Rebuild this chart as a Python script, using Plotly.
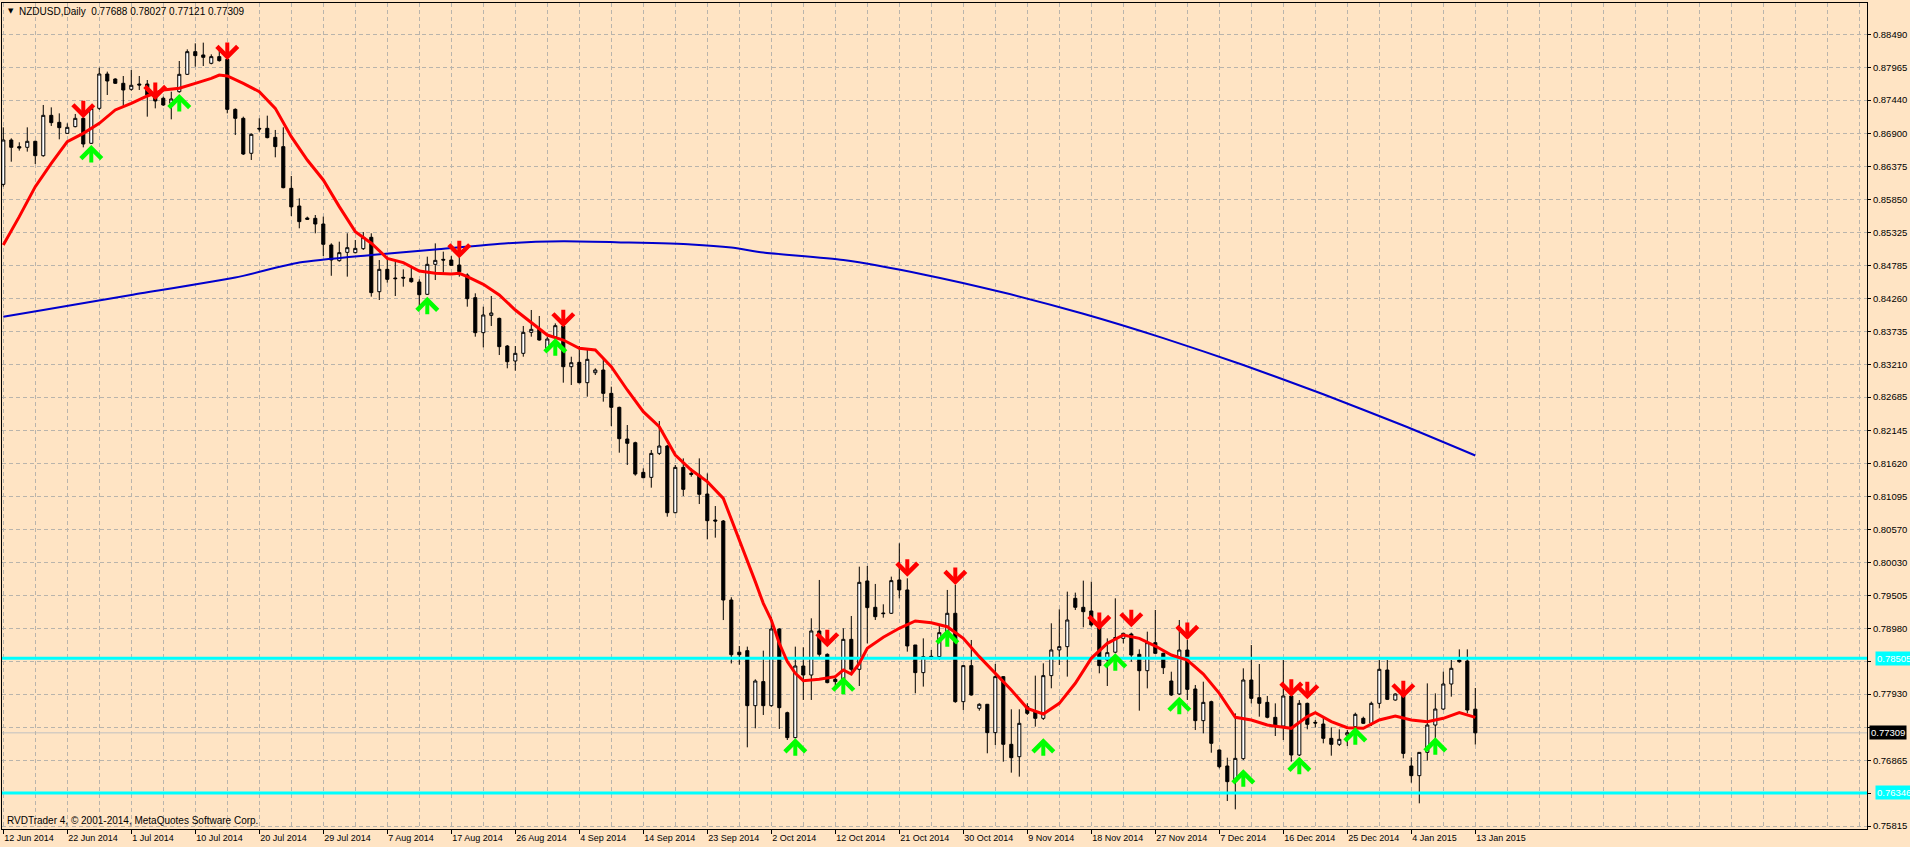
import plotly.graph_objects as go

# ---------------- data ----------------
bar_index = list(range(185))

opens = [
    0.86092, 0.86802, 0.86696, 0.86685, 0.86781, 0.86551, 0.87197, 0.87085, 0.86909, 0.87016,
    0.87149, 0.86749, 0.87309, 0.87859, 0.87779, 0.87710, 0.87614, 0.87699, 0.87699, 0.87523,
    0.87470, 0.87390, 0.87576, 0.87854, 0.88217, 0.88164, 0.88030, 0.88137, 0.88094, 0.87293,
    0.87149, 0.86589, 0.86989, 0.86989, 0.86845, 0.86696, 0.86028, 0.85745, 0.85553, 0.85548,
    0.85457, 0.85121, 0.84870, 0.85003, 0.84998, 0.85062, 0.85244, 0.84373, 0.84731, 0.84592,
    0.84603, 0.84587, 0.84528, 0.84331, 0.84811, 0.84891, 0.84880, 0.84800, 0.84640, 0.84277,
    0.83717, 0.83994, 0.83946, 0.83503, 0.83263, 0.83386, 0.83722, 0.83770, 0.83466, 0.83653,
    0.83824, 0.83172, 0.83242, 0.82916, 0.83076, 0.83119, 0.82745, 0.82521, 0.82014, 0.81955,
    0.81480, 0.81400, 0.81784, 0.81902, 0.80834, 0.81560, 0.81464, 0.81437, 0.81133, 0.80717,
    0.80701, 0.79436, 0.78600, 0.78625, 0.77744, 0.78129, 0.77744, 0.78972, 0.77632, 0.77232,
    0.78379, 0.78235, 0.78940, 0.78566, 0.78166, 0.78166, 0.78806, 0.78326, 0.79741, 0.79319,
    0.79228, 0.79223, 0.79757, 0.79597, 0.78716, 0.78273, 0.78534, 0.78529, 0.78913, 0.79223,
    0.77808, 0.78385, 0.77702, 0.77766, 0.77312, 0.78209, 0.77125, 0.76927, 0.77728, 0.77648,
    0.77541, 0.78225, 0.78636, 0.78689, 0.79463, 0.79319, 0.79260, 0.79036, 0.78476, 0.78600,
    0.78822, 0.78891, 0.78566, 0.78304, 0.78753, 0.78582, 0.78139, 0.77931, 0.78635, 0.78011,
    0.77504, 0.77808, 0.77034, 0.76778, 0.76527, 0.76895, 0.78155, 0.77872, 0.77797, 0.77557,
    0.77418, 0.77899, 0.76954, 0.77781, 0.77477, 0.77450, 0.77221, 0.77125, 0.77274, 0.77407,
    0.77541, 0.77461, 0.77781, 0.78315, 0.77834, 0.77915, 0.76778, 0.76623, 0.76996, 0.77434,
    0.77690, 0.78091, 0.78475, 0.78459, 0.77688,
]
highs = [
    0.87005, 0.86829, 0.86765, 0.87005, 0.86792, 0.87363, 0.87325, 0.87229, 0.87069, 0.87219,
    0.87187, 0.87325, 0.87961, 0.87897, 0.87790, 0.87827, 0.87923, 0.87827, 0.87763, 0.87630,
    0.87496, 0.87576, 0.88067, 0.88254, 0.88350, 0.88361, 0.88174, 0.88254, 0.88164, 0.87309,
    0.87176, 0.86909, 0.87149, 0.87192, 0.86963, 0.87005, 0.86226, 0.85868, 0.85575, 0.85601,
    0.85575, 0.85148, 0.85174, 0.85308, 0.85201, 0.85329, 0.85308, 0.84880, 0.84934, 0.84854,
    0.84731, 0.84774, 0.84571, 0.84934, 0.85147, 0.85014, 0.84944, 0.84934, 0.84667, 0.84347,
    0.84133, 0.84304, 0.83957, 0.83519, 0.83503, 0.83824, 0.84080, 0.83984, 0.83653, 0.83866,
    0.83920, 0.83332, 0.83503, 0.83466, 0.83146, 0.83306, 0.82852, 0.82532, 0.82238, 0.81971,
    0.81544, 0.81838, 0.82302, 0.81918, 0.81598, 0.81704, 0.81544, 0.81704, 0.81464, 0.80941,
    0.80717, 0.79480, 0.78700, 0.78689, 0.78166, 0.78625, 0.79169, 0.78983, 0.77648, 0.78689,
    0.78678, 0.79143, 0.79757, 0.78582, 0.78235, 0.78983, 0.79180, 0.79970, 0.79981, 0.79693,
    0.79367, 0.79810, 0.80344, 0.79783, 0.78716, 0.78822, 0.78636, 0.79036, 0.79597, 0.79677,
    0.78395, 0.78796, 0.77782, 0.77771, 0.78412, 0.78219, 0.77686, 0.77686, 0.77782, 0.78225,
    0.78422, 0.79063, 0.79287, 0.79570, 0.79554, 0.79746, 0.79730, 0.79063, 0.78822, 0.79463,
    0.78913, 0.78913, 0.78646, 0.78929, 0.79276, 0.78592, 0.78288, 0.79116, 0.78795, 0.78075,
    0.78128, 0.77824, 0.77044, 0.76911, 0.77621, 0.78342, 0.78715, 0.78411, 0.77899, 0.77781,
    0.78475, 0.77899, 0.77834, 0.77792, 0.77514, 0.77568, 0.77397, 0.77365, 0.77354, 0.77632,
    0.77568, 0.77808, 0.78475, 0.78475, 0.77941, 0.77941, 0.76916, 0.76996, 0.78101, 0.77941,
    0.78288, 0.78475, 0.78646, 0.78646, 0.78027,
]
lows = [
    0.86055, 0.86455, 0.86632, 0.86616, 0.86418, 0.86535, 0.87027, 0.86813, 0.86898, 0.87005,
    0.86685, 0.86738, 0.87283, 0.87523, 0.87699, 0.87347, 0.87592, 0.87603, 0.87176, 0.87309,
    0.87347, 0.87133, 0.87560, 0.87843, 0.87977, 0.87987, 0.88014, 0.88057, 0.87229, 0.86882,
    0.86562, 0.86482, 0.86936, 0.86829, 0.86525, 0.86028, 0.85585, 0.85388, 0.85521, 0.85308,
    0.84945, 0.84628, 0.84854, 0.84614, 0.84987, 0.85041, 0.84294, 0.84240, 0.84517, 0.84304,
    0.84453, 0.84517, 0.84090, 0.84320, 0.84560, 0.84678, 0.84784, 0.84614, 0.84133, 0.83653,
    0.83482, 0.83824, 0.83359, 0.83146, 0.83108, 0.83332, 0.83653, 0.83589, 0.83413, 0.83626,
    0.82916, 0.82879, 0.82905, 0.82692, 0.83039, 0.82612, 0.82222, 0.81795, 0.81598, 0.81427,
    0.81384, 0.81235, 0.81758, 0.80770, 0.80824, 0.81101, 0.81411, 0.80973, 0.80407, 0.80434,
    0.79115, 0.78420, 0.78400, 0.77077, 0.77381, 0.77595, 0.77728, 0.77371, 0.77194, 0.77221,
    0.77835, 0.77835, 0.78529, 0.78102, 0.77995, 0.78129, 0.78262, 0.78059, 0.78742, 0.79116,
    0.79153, 0.79212, 0.79463, 0.78609, 0.77942, 0.78049, 0.78476, 0.78476, 0.78876, 0.77790,
    0.77675, 0.77904, 0.77664, 0.76981, 0.77114, 0.76847, 0.76671, 0.76607, 0.77595, 0.77408,
    0.77515, 0.78022, 0.78395, 0.78209, 0.79276, 0.78999, 0.79009, 0.78262, 0.78059, 0.78582,
    0.78742, 0.78448, 0.77664, 0.78021, 0.78571, 0.78251, 0.77899, 0.77915, 0.77835, 0.77354,
    0.77301, 0.76991, 0.76740, 0.76217, 0.76084, 0.76874, 0.77781, 0.77568, 0.77541, 0.77258,
    0.77194, 0.76847, 0.76938, 0.77365, 0.77397, 0.77141, 0.76943, 0.77098, 0.77098, 0.77381,
    0.77450, 0.77418, 0.77701, 0.77834, 0.77824, 0.76900, 0.76511, 0.76180, 0.76863, 0.76991,
    0.77674, 0.77888, 0.78432, 0.77621, 0.77121,
]
closes = [
    0.86802, 0.86685, 0.86674, 0.86781, 0.86551, 0.87197, 0.87080, 0.87000, 0.87005, 0.87149,
    0.86738, 0.87309, 0.87859, 0.87747, 0.87710, 0.87603, 0.87678, 0.87683, 0.87523, 0.87427,
    0.87363, 0.87459, 0.87854, 0.88217, 0.88153, 0.88126, 0.88137, 0.88073, 0.87293, 0.87149,
    0.86578, 0.86893, 0.86979, 0.86840, 0.86696, 0.86039, 0.85731, 0.85495, 0.85532, 0.85457,
    0.85132, 0.84881, 0.84998, 0.85078, 0.85067, 0.85244, 0.84358, 0.84731, 0.84571, 0.84582,
    0.84592, 0.84533, 0.84325, 0.84811, 0.84875, 0.84880, 0.84795, 0.84694, 0.84261, 0.83717,
    0.84000, 0.84032, 0.83493, 0.83252, 0.83386, 0.83722, 0.83770, 0.83599, 0.83615, 0.83829,
    0.83172, 0.83236, 0.82916, 0.83290, 0.83119, 0.82745, 0.82521, 0.82019, 0.81945, 0.81453,
    0.81395, 0.81784, 0.81902, 0.80834, 0.81560, 0.81208, 0.81448, 0.81128, 0.80706, 0.80701,
    0.79436, 0.78560, 0.78560, 0.77744, 0.78139, 0.77744, 0.78972, 0.77712, 0.77232, 0.78379,
    0.78235, 0.78940, 0.78566, 0.78113, 0.78129, 0.78806, 0.78326, 0.79719, 0.79314, 0.79169,
    0.79218, 0.79746, 0.79597, 0.78700, 0.78273, 0.78529, 0.78524, 0.78913, 0.79223, 0.77808,
    0.78385, 0.77915, 0.77766, 0.77312, 0.78209, 0.77125, 0.76911, 0.77461, 0.77621, 0.77541,
    0.78225, 0.78636, 0.78689, 0.79116, 0.79319, 0.79249, 0.79036, 0.78385, 0.78593, 0.78835,
    0.78902, 0.78555, 0.78304, 0.78753, 0.78582, 0.78352, 0.77915, 0.78635, 0.78005, 0.77504,
    0.77797, 0.77141, 0.76767, 0.76527, 0.76900, 0.78155, 0.77861, 0.77781, 0.77557, 0.77407,
    0.77899, 0.76954, 0.77781, 0.77445, 0.77466, 0.77221, 0.77125, 0.77205, 0.77311, 0.77605,
    0.77461, 0.77781, 0.78326, 0.77845, 0.77931, 0.76980, 0.76623, 0.76996, 0.77434, 0.77690,
    0.78091, 0.78342, 0.78448, 0.77674, 0.77309,
]

date_labels = [
    "12 Jun 2014", "22 Jun 2014", "1 Jul 2014", "10 Jul 2014", "20 Jul 2014", "29 Jul 2014",
    "7 Aug 2014", "17 Aug 2014", "26 Aug 2014", "4 Sep 2014", "14 Sep 2014", "23 Sep 2014",
    "2 Oct 2014", "12 Oct 2014", "21 Oct 2014", "30 Oct 2014", "9 Nov 2014", "18 Nov 2014",
    "27 Nov 2014", "7 Dec 2014", "16 Dec 2014", "25 Dec 2014", "4 Jan 2015", "13 Jan 2015",
]
date_label_bars = [0, 8, 16, 24, 32, 40, 48, 56, 64, 72, 80, 88, 96, 104, 112, 120,
                   128, 136, 144, 152, 160, 168, 176, 184]

# price grid levels; labels hidden behind the price boxes are kept as grid only
price_grid = [
    "0.88490", "0.87965", "0.87440", "0.86900", "0.86375", "0.85850", "0.85325", "0.84785",
    "0.84260", "0.83735", "0.83210", "0.82685", "0.82145", "0.81620", "0.81095", "0.80570",
    "0.80030", "0.79505", "0.78980", "0.78455", "0.77930", "0.77390", "0.76865", "0.76340",
    "0.75815",
]
hidden_price_labels = ["0.78455", "0.77390", "0.76340"]

red_ma_bars = [0, 2, 4, 6, 8, 10, 12, 14, 16, 18, 20, 22, 24, 26, 27, 28, 30, 32, 34, 36,
               38, 40, 42, 44, 46, 48, 50, 52, 54, 56, 57, 58, 60, 62, 64, 66, 68, 70, 72,
               74, 76, 78, 80, 82, 84, 86, 88, 90, 92, 93, 94, 95, 96, 97, 98, 99, 100,
               102, 104, 105, 106, 107, 108, 110, 112, 114, 116, 118, 120, 122, 124, 126,
               128, 130, 132, 134, 136, 138, 140, 142, 144, 146, 148, 150, 152, 154, 156,
               158, 160, 161, 163, 164, 166, 168, 170, 172, 174, 176, 178, 180, 182, 184]
red_ma_vals = [0.85121, 0.85575, 0.86055, 0.86429, 0.86776, 0.86909, 0.87069, 0.87283,
               0.87390, 0.87507, 0.87603, 0.87630, 0.87710, 0.87790, 0.87843, 0.87827,
               0.87710, 0.87576, 0.87309, 0.86856, 0.86482, 0.86162, 0.85735, 0.85334,
               0.85150, 0.84907, 0.84838, 0.84704, 0.84667, 0.84656, 0.84667, 0.84614,
               0.84491, 0.84320, 0.84080, 0.83877, 0.83679, 0.83599, 0.83466, 0.83439,
               0.83172, 0.82799, 0.82452, 0.82211, 0.81758, 0.81518, 0.81331, 0.81064,
               0.80410, 0.80077, 0.79730, 0.79383, 0.79116, 0.78742, 0.78449, 0.78262,
               0.78145, 0.78166, 0.78209, 0.78315, 0.78251, 0.78422, 0.78662, 0.78839,
               0.78983, 0.79100, 0.79073, 0.79009, 0.78822, 0.78529, 0.78262, 0.77995,
               0.77701, 0.77611, 0.77781, 0.78102, 0.78502, 0.78742, 0.78876, 0.78822,
               0.78699, 0.78555, 0.78475, 0.78251, 0.77941, 0.77557, 0.77514, 0.77434,
               0.77397, 0.77381, 0.77568, 0.77632, 0.77488, 0.77391, 0.77381, 0.77514,
               0.77578, 0.77514, 0.77488, 0.77541, 0.77632, 0.77557]

blue_ma_bars = [0, 5, 16, 29, 37, 46, 54, 63, 70, 78, 86, 91, 95, 105, 115, 125, 135,
                145, 155, 165, 175, 184]
blue_ma_vals = [0.8397, 0.8408, 0.8432, 0.8460, 0.8484, 0.8496, 0.8505, 0.8515, 0.8518,
                0.8516, 0.8513, 0.8508, 0.8500, 0.8488, 0.8465, 0.8436, 0.8402, 0.8363,
                0.8320, 0.8273, 0.8223, 0.8175]

sell_bars = [10, 19, 28, 57, 70, 103, 113, 119, 137, 141, 148, 161, 163, 175]
sell_prices = [0.87149, 0.87443, 0.88083, 0.84907, 0.83802, 0.78678, 0.79810, 0.79677,
               0.78956, 0.78998, 0.78795, 0.77888, 0.77845, 0.77861]
buy_bars = [11, 22, 53, 69, 99, 105, 118, 130, 139, 147, 155, 162, 169, 179]
buy_prices = [0.86722, 0.87539, 0.84293, 0.83626, 0.77221, 0.78209, 0.78967, 0.77221,
              0.78582, 0.77888, 0.76724, 0.76927, 0.77397, 0.77237]

level_prices = [0.78505, 0.76346]
last_price = 0.77309
header_symbol = "NZDUSD,Daily"
header_ohlc = "0.77688 0.78027 0.77121 0.77309"
copyright_text = "RVDTrader 4, \u00a9 2001-2014, MetaQuotes Software Corp."

# ---------------- style ----------------
BG = "#FFE4C4"
GRID = "#b9b4ac"
FONT = "Liberation Sans, Arial, sans-serif"
x_range = [-0.16, 232.96]
y_range = [0.75769, 0.88996]

grid_bars = [b for b in range(0, 233, 4) if b not in date_label_bars]
y_tickvals = [float(s) for s in price_grid]
y_ticktext = ["" if s in hidden_price_labels else s for s in price_grid]

fig = go.Figure()

fig.add_trace(go.Candlestick(
    x=bar_index, open=opens, high=highs, low=lows, close=closes,
    increasing=dict(fillcolor="white", line=dict(color="black", width=1)),
    decreasing=dict(fillcolor="black", line=dict(color="black", width=1)),
    whiskerwidth=0, hoverinfo="skip", showlegend=False,
))

for lv in level_prices:
    fig.add_trace(go.Scatter(x=x_range, y=[lv, lv], mode="lines",
                             line=dict(color="#00FFFF", width=3),
                             hoverinfo="skip", showlegend=False))

fig.add_trace(go.Scatter(x=blue_ma_bars, y=blue_ma_vals, mode="lines",
                         line=dict(color="#0000CD", width=2, shape="spline", smoothing=0.6),
                         hoverinfo="skip", showlegend=False))
fig.add_trace(go.Scatter(x=red_ma_bars, y=red_ma_vals, mode="lines",
                         line=dict(color="#FF0000", width=3),
                         hoverinfo="skip", showlegend=False))

annotations = []
for b, p in zip(sell_bars, sell_prices):
    annotations.append(dict(x=b, y=p, xref="x", yref="y", text="", showarrow=True,
                            arrowhead=4, arrowsize=1.0, arrowwidth=4,
                            arrowcolor="#FF0000", ax=0, ay=-19))
for b, p in zip(buy_bars, buy_prices):
    annotations.append(dict(x=b, y=p, xref="x", yref="y", text="", showarrow=True,
                            arrowhead=4, arrowsize=1.0, arrowwidth=4,
                            arrowcolor="#00FF00", ax=0, ay=19))

for lv in level_prices:
    annotations.append(dict(x=1, y=lv, xref="paper", yref="y", xanchor="left",
                            yanchor="middle", xshift=8, showarrow=False,
                            text=f"{lv:.5f}", bgcolor="#00FFFF", borderpad=1,
                            font=dict(family=FONT, size=9.5, color="white")))
annotations.append(dict(x=1, y=last_price, xref="paper", yref="y", xanchor="left",
                        yanchor="middle", xshift=2, showarrow=False,
                        text=f"{last_price:.5f}", bgcolor="black", borderpad=1,
                        font=dict(family=FONT, size=9.5, color="white")))

annotations.append(dict(x=0, y=1, xref="paper", yref="paper", xanchor="left",
                        yanchor="top", xshift=4, yshift=-2, showarrow=False,
                        text="\u25bc", font=dict(family="DejaVu Sans", size=7, color="black")))
annotations.append(dict(x=0, y=1, xref="paper", yref="paper", xanchor="left",
                        yanchor="top", xshift=15, yshift=-1, showarrow=False,
                        text=header_symbol + "&nbsp;&nbsp;" + header_ohlc,
                        font=dict(family=FONT, size=10, color="black")))
annotations.append(dict(x=0, y=0, xref="paper", yref="paper", xanchor="left",
                        yanchor="bottom", xshift=3, yshift=1, showarrow=False,
                        text=copyright_text,
                        font=dict(family=FONT, size=10, color="black")))

fig.update_layout(
    width=1910, height=847,
    margin=dict(l=2, r=43, t=3, b=18),
    paper_bgcolor=BG, plot_bgcolor=BG,
    showlegend=False, hovermode=False,
    boxgap=0.45,
    annotations=annotations,
    shapes=[dict(type="line", xref="paper", x0=0, x1=1, yref="y", y0=last_price,
                 y1=last_price, line=dict(color="#c0c0c0", width=1), layer="between")],
    xaxis=dict(
        range=x_range, rangeslider=dict(visible=False),
        tickmode="array", tickvals=date_label_bars, ticktext=date_labels,
        ticks="outside", ticklen=4, tickcolor="black", tickwidth=1,
        ticklabelposition="outside right",
        tickfont=dict(family=FONT, size=9, color="black"),
        showgrid=True, gridcolor=GRID, griddash="4px,3px", gridwidth=1,
        minor=dict(tickmode="array", tickvals=grid_bars, showgrid=True,
                   gridcolor=GRID, griddash="4px,3px", gridwidth=1, ticks=""),
        showline=True, mirror=True, linecolor="black", linewidth=1, zeroline=False,
        fixedrange=True,
    ),
    yaxis=dict(
        range=y_range, side="right",
        tickmode="array", tickvals=y_tickvals, ticktext=y_ticktext,
        ticks="outside", ticklen=3, tickcolor="black", tickwidth=1,
        tickfont=dict(family=FONT, size=9.5, color="black"),
        showgrid=True, gridcolor=GRID, griddash="4px,3px", gridwidth=1,
        showline=True, mirror=True, linecolor="black", linewidth=1, zeroline=False,
        fixedrange=True,
    ),
)

fig.write_html("out.html")
